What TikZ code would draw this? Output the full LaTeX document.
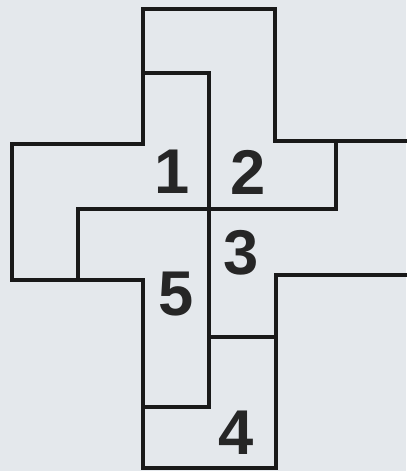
\documentclass[tikz,border=0pt]{standalone}
\usepackage{tikz}
\usepackage{xcolor}
\usepackage{fontspec}
\newfontfamily\digitfont{Liberation Sans}
\definecolor{paper}{RGB}{228,232,236}

\begin{document}
\begin{tikzpicture}[x=0.025cm,y=-0.025cm,
  edge/.style={black!90,line width=2.7pt,line cap=rect},
  num/.style={font=\digitfont\bfseries\fontsize{45}{45}\selectfont,text=black!85,inner sep=0pt}]
\fill[paper] (0,0) rectangle (406,471);
\useasboundingbox (0,0) rectangle (406,471);
% outline of the cross
\draw[edge] (406,141) -- (275,141) -- (275,9) -- (143,9) -- (143,144) -- (12,144) -- (12,280) -- (143,280) -- (143,468) -- (276,468) -- (276,275) -- (406,275);
% cuts between the pieces
\draw[edge] (143,73) -- (209,73) -- (209,407) -- (145,407);
\draw[edge] (78,280) -- (78,209) -- (336,209) -- (336,141);
\draw[edge] (209,337) -- (276,337);
\node[num] (one) at (172,172) {1};
\node[num] (two) at (248,172) {2};
\node[num] (three) at (241,253) {3};
\node[num] (five) at (176,294) {5};
\node[num] (four) at (236,433) {4};
\end{tikzpicture}
\end{document}
